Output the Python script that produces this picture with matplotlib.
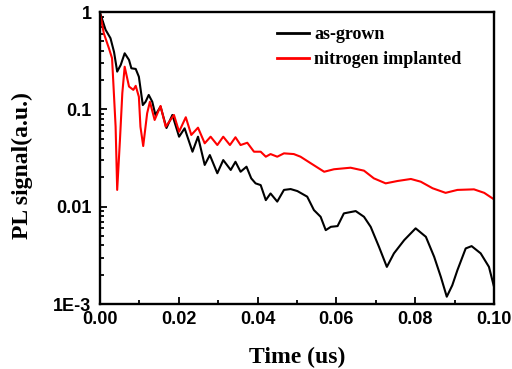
import matplotlib
matplotlib.use("Agg")
import matplotlib.pyplot as plt
from matplotlib.ticker import FixedLocator, FixedFormatter, LogLocator, MultipleLocator, NullFormatter

# as-grown sample
t_grown = [0.0, 0.00145, 0.0027, 0.0036, 0.0044, 0.0053, 0.0063, 0.0074, 0.0080, 0.0091,
           0.0099, 0.0109, 0.0116, 0.0124, 0.0133, 0.0141, 0.0154, 0.0169, 0.0184, 0.0201,
           0.0215, 0.0235, 0.0249, 0.0266, 0.0279, 0.0298, 0.0313, 0.0332, 0.0344, 0.0357,
           0.0372, 0.0384, 0.0395, 0.0408, 0.0421, 0.0433, 0.0450, 0.0467, 0.0484, 0.0501,
           0.0526, 0.0543, 0.0560, 0.0573, 0.0586, 0.0603, 0.0619, 0.0649, 0.0670, 0.0687,
           0.0708, 0.0728, 0.0746, 0.0772, 0.0801, 0.0827, 0.0848, 0.0865, 0.0880, 0.0894,
           0.0907, 0.0928, 0.0943, 0.0966, 0.0987, 0.0999]
pl_grown = [1.0, 0.66, 0.54, 0.39, 0.245, 0.287, 0.378, 0.323, 0.265, 0.261,
            0.217, 0.111, 0.120, 0.141, 0.120, 0.0878, 0.107, 0.0645, 0.0878, 0.0525,
            0.064, 0.0368, 0.0525, 0.0269, 0.034, 0.0221, 0.0302, 0.0239, 0.029, 0.0229,
            0.0258, 0.0196, 0.0174, 0.0167, 0.0117, 0.0137, 0.0113, 0.0149, 0.0152, 0.0145,
            0.0127, 0.00925, 0.00789, 0.00575, 0.00622, 0.00633, 0.00855, 0.00903, 0.00789, 0.00622,
            0.00388, 0.00241, 0.00332, 0.00454, 0.0060, 0.00491, 0.00306, 0.0019, 0.00119, 0.00156,
            0.00223, 0.00373, 0.00394, 0.00332, 0.00241, 0.00155]

# nitrogen implanted sample
t_impl = [0.0, 0.0010, 0.0023, 0.0031, 0.0040, 0.0044, 0.0051, 0.0057, 0.0063, 0.0074,
          0.0085, 0.0091, 0.0099, 0.0103, 0.0110, 0.0120, 0.0127, 0.0139, 0.0154, 0.0167,
          0.0188, 0.0201, 0.0218, 0.0232, 0.0249, 0.0266, 0.0281, 0.0298, 0.0313, 0.0330,
          0.0344, 0.0357, 0.0374, 0.0391, 0.0408, 0.0421, 0.0433, 0.0450, 0.0467, 0.0492,
          0.0509, 0.0535, 0.0569, 0.0594, 0.0636, 0.0670, 0.0695, 0.0725, 0.0755, 0.0789,
          0.0814, 0.0844, 0.0877, 0.0907, 0.0949, 0.0975, 0.1000]
pl_impl = [1.0, 0.608, 0.426, 0.336, 0.0665, 0.0149, 0.0486, 0.147, 0.275, 0.172,
           0.159, 0.175, 0.135, 0.0665, 0.0421, 0.0914, 0.120, 0.078, 0.1087, 0.0665,
           0.0878, 0.0591, 0.0832, 0.0547, 0.065, 0.0449, 0.0525, 0.0431, 0.0525, 0.0431,
           0.0518, 0.0431, 0.0455, 0.0368, 0.0368, 0.0327, 0.0348, 0.0327, 0.0354, 0.0348,
           0.0327, 0.028, 0.0229, 0.0243, 0.0252, 0.0235, 0.0196, 0.0174, 0.0184, 0.0193,
           0.0181, 0.0155, 0.0139, 0.0149, 0.0151, 0.0139, 0.0119]

x_ticks = [0.00, 0.02, 0.04, 0.06, 0.08, 0.10]
y_ticks = [1e-3, 1e-2, 1e-1, 1]
y_tick_labels = ["1E-3", "0.01", "0.1", "1"]

serif = {"family": "Liberation Serif", "weight": "bold"}
sans = {"family": "Liberation Sans", "weight": "bold"}

fig = plt.figure(figsize=(5.12, 3.69), dpi=100)
ax = fig.add_axes([0.195, 0.176, 0.77, 0.791])

ax.plot(t_grown, pl_grown, color="black", lw=1.5, label="as-grown")
ax.plot(t_impl, pl_impl, color="#ff0000", lw=1.5, label="nitrogen implanted")

ax.set_yscale("log")
ax.set_xlim(0, 0.1)
ax.set_ylim(1e-3, 1)

ax.xaxis.set_major_locator(FixedLocator(x_ticks))
ax.xaxis.set_minor_locator(MultipleLocator(0.01))
ax.set_xticklabels(["%.2f" % v for v in x_ticks], fontdict=sans, fontsize=13)
ax.yaxis.set_major_locator(FixedLocator(y_ticks))
ax.yaxis.set_major_formatter(FixedFormatter(y_tick_labels))
ax.yaxis.set_minor_locator(LogLocator(base=10, subs=range(2, 10)))
ax.yaxis.set_minor_formatter(NullFormatter())
for lab in ax.get_yticklabels():
    lab.set_fontfamily("Liberation Sans")
    lab.set_fontweight("bold")
    lab.set_fontsize(13)

ax.tick_params(which="both", direction="in", top=False, right=False, width=1.3)
ax.tick_params(axis="x", which="major", length=5, pad=5)
ax.tick_params(axis="y", which="major", length=5, pad=6)
ax.tick_params(which="minor", length=3)
for s in ax.spines.values():
    s.set_linewidth(1.7)

ax.set_xlabel("Time (us)", fontdict=serif, fontsize=17)
ax.set_ylabel("PL signal(a.u.)", fontdict=serif, fontsize=17)
ax.xaxis.set_label_coords(0.5, -0.146)
ax.yaxis.set_label_coords(-0.17, 0.476)

leg = fig.legend(loc="upper left", bbox_to_anchor=(277 / 512, 1 - 26 / 369), frameon=False,
                 prop={"family": "Liberation Serif", "weight": "bold", "size": 13},
                 handlelength=1.75, handletextpad=0.3, labelspacing=0.45,
                 borderpad=0, borderaxespad=0)
for h in leg.get_lines():
    h.set_linewidth(2)

fig.savefig("out.png", dpi=100)
